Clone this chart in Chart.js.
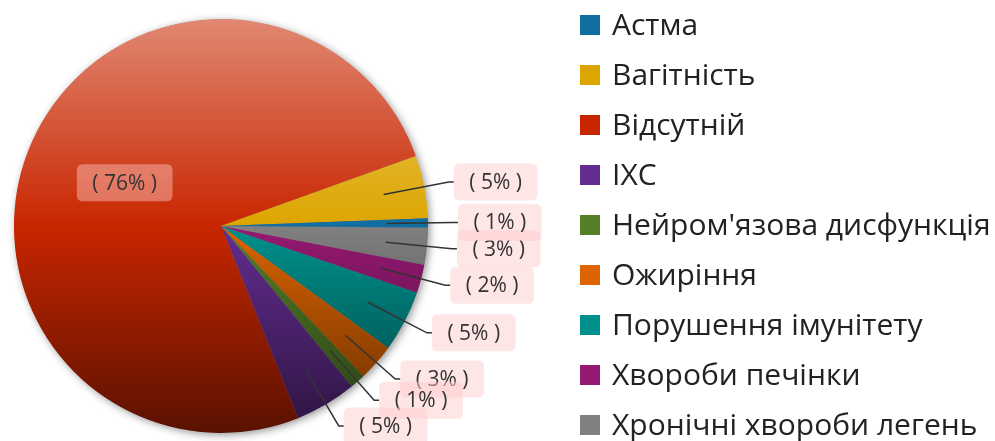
<!DOCTYPE html>
<html>
<head>
<meta charset="utf-8">
<script src="https://cdn.jsdelivr.net/npm/chart.js@4.4.0/dist/chart.umd.min.js"></script>
<style>
  html, body { margin: 0; padding: 0; background: #fff; }
  #wrap { width: 995px; height: 441px; }
</style>
</head>
<body>
<div id="wrap"><canvas id="pie" width="995" height="441"></canvas></div>
<script>
// categories and shares (%), in legend order
var categories = ["Астма", "Вагітність", "Відсутній", "ІХС", "Нейром'язова дисфункція", "Ожиріння", "Порушення імунітету", "Хвороби печінки", "Хронічні хвороби легень"];
var shares = [0.7, 4.9, 75.5, 4.8, 1.2, 2.9, 4.8, 2.2, 2.9];
var colors = ["#106EA0", "#DDA500", "#C82600", "#642D91", "#558028", "#DD6400", "#00918C", "#961973", "#808080"];

// the picture runs counter-clockwise, Chart.js runs clockwise -> feed it reversed
var pieLabels = categories.slice().reverse();
var pieValues = shares.slice().reverse();
var pieColors = colors.slice().reverse();

var fontFamily = '"Open Sans", "Noto Sans", sans-serif';

function mix(hex, target, amount) {
  var r = parseInt(hex.substr(1, 2), 16);
  var g = parseInt(hex.substr(3, 2), 16);
  var b = parseInt(hex.substr(5, 2), 16);
  r = Math.round(r + (target - r) * amount);
  g = Math.round(g + (target - g) * amount);
  b = Math.round(b + (target - b) * amount);
  return "rgb(" + r + "," + g + "," + b + ")";
}

// light at the top, dark at the bottom
function sliceFill(context) {
  var chart = context.chart;
  var area = chart.chartArea;
  var base = pieColors[context.dataIndex];
  if (!area) return base;
  var grad = chart.ctx.createLinearGradient(0, area.top, 0, area.bottom);
  grad.addColorStop(0, mix(base, 255, 0.45));
  grad.addColorStop(0.5, base);
  grad.addColorStop(1, mix(base, 0, 0.55));
  return grad;
}

function roundRect(ctx, x, y, w, h, r) {
  ctx.beginPath();
  ctx.moveTo(x + r, y);
  ctx.lineTo(x + w - r, y);
  ctx.quadraticCurveTo(x + w, y, x + w, y + r);
  ctx.lineTo(x + w, y + h - r);
  ctx.quadraticCurveTo(x + w, y + h, x + w - r, y + h);
  ctx.lineTo(x + r, y + h);
  ctx.quadraticCurveTo(x, y + h, x, y + h - r);
  ctx.lineTo(x, y + r);
  ctx.quadraticCurveTo(x, y, x + r, y);
  ctx.closePath();
}

// soft shadow under the pie
var shadowPlugin = {
  id: "pieShadow",
  beforeDatasetsDraw: function(chart) {
    var arc = chart.getDatasetMeta(0).data[0];
    if (!arc) return;
    var ctx = chart.ctx;
    ctx.save();
    ctx.shadowColor = "rgba(0,0,0,0.45)";
    ctx.shadowBlur = 9;
    ctx.shadowOffsetX = 2;
    ctx.shadowOffsetY = 2;
    ctx.beginPath();
    ctx.arc(arc.x, arc.y, arc.outerRadius - 0.5, 0, Math.PI * 2);
    ctx.fillStyle = "#777";
    ctx.fill();
    ctx.restore();
  }
};

// "( n% )" labels, big slice inside, the rest outside with leader lines
var labelPlugin = {
  id: "sliceLabels",
  afterDatasetsDraw: function(chart) {
    var ctx = chart.ctx;
    var meta = chart.getDatasetMeta(0);
    var data = chart.data.datasets[0].data;
    var total = data.reduce(function(a, b) { return a + b; }, 0);
    var boxes = [];
    ctx.save();
    ctx.font = "21px " + fontFamily;
    ctx.strokeStyle = "#333";
    ctx.lineWidth = 1.5;
    meta.data.forEach(function(arc, i) {
      var p = arc.getProps(["x", "y", "startAngle", "endAngle", "outerRadius"], true);
      var mid = (p.startAngle + p.endAngle) / 2;
      var cos = Math.cos(mid), sin = Math.sin(mid);
      var r = p.outerRadius;
      var text = "( " + Math.round(data[i] / total * 100) + "% )";
      var w = ctx.measureText(text).width + 31;
      var h = 37;
      if (data[i] / total > 0.5) {
        var cx = p.x + cos * r * 0.51;
        var cy = p.y + sin * r * 0.51;
        boxes.push({ x: cx - w / 2, y: cy - h / 2, w: w, h: h, text: text, inside: true });
      } else {
        var x0 = p.x + cos * r * 0.8, y0 = p.y + sin * r * 0.8;
        var x1 = p.x + cos * (r + 25), y1 = p.y + sin * (r + 25);
        ctx.beginPath();
        ctx.moveTo(x0, y0);
        ctx.lineTo(x1, y1);
        ctx.lineTo(x1 + 5, y1);
        ctx.stroke();
        boxes.push({ x: x1 + 5, y: y1 - h / 2, w: w, h: h, text: text, inside: false });
      }
    });
    ctx.textAlign = "center";
    ctx.textBaseline = "middle";
    boxes.forEach(function(b) {
      roundRect(ctx, b.x, b.y, b.w, b.h, 6);
      ctx.fillStyle = b.inside ? "rgba(255,200,195,0.45)" : "rgba(255,205,205,0.5)";
      ctx.fill();
      ctx.fillStyle = "#333";
      ctx.fillText(b.text, b.x + b.w / 2, b.y + b.h / 2 + 1);
    });
    ctx.restore();
  }
};

// legend on the right, in category order
var legendPlugin = {
  id: "sideLegend",
  afterDraw: function(chart) {
    var ctx = chart.ctx;
    ctx.save();
    ctx.font = "30px " + fontFamily;
    ctx.textBaseline = "middle";
    for (var i = 0; i < categories.length; i++) {
      var y = 25 + i * 50;
      ctx.fillStyle = colors[i];
      ctx.fillRect(580, y - 10, 20, 20);
      ctx.fillStyle = "#222";
      ctx.fillText(categories[i], 612, y + 1);
    }
    ctx.restore();
  }
};

var ctx = document.getElementById("pie").getContext("2d");
var pieChart = new Chart(ctx, {
  type: "pie",
  data: {
    labels: pieLabels,
    datasets: [{
      data: pieValues,
      backgroundColor: sliceFill,
      borderWidth: 0
    }]
  },
  options: {
    responsive: false,
    animation: false,
    rotation: 90.4,
    layout: { padding: { left: 14, top: 19, right: 567, bottom: 8 } },
    plugins: {
      legend: { display: false },
      tooltip: { enabled: false }
    }
  },
  plugins: [shadowPlugin, labelPlugin, legendPlugin]
});
</script>
</body>
</html>
